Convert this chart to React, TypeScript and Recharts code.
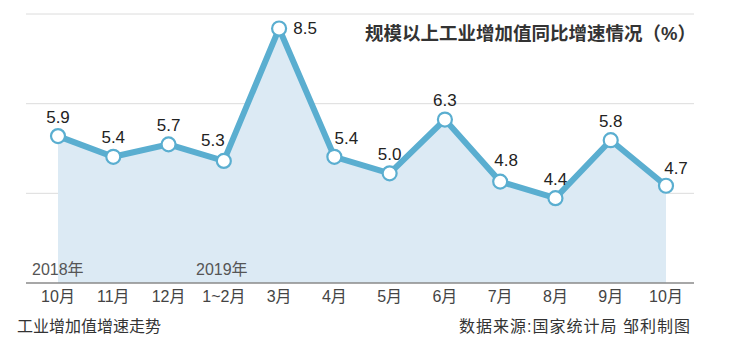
import { ComposedChart, Area, XAxis, YAxis, CartesianGrid, LabelList } from "recharts";

// 规模以上工业增加值同比增速 (%)
const months = ["10月", "11月", "12月", "1~2月", "3月", "4月", "5月", "6月", "7月", "8月", "9月", "10月"];
const growth = [5.9, 5.4, 5.7, 5.3, 8.5, 5.4, 5.0, 6.3, 4.8, 4.4, 5.8, 4.7];
const gridValues = [8.85, 6.683, 4.517];
const yDomain = [2.35, 8.85];

const data = months.map((m, i) => ({ month: m, value: growth[i] }));

const LINE = "#5aaed0";
const FILL = "#dceaf4";
const FONT = '"Liberation Sans", "Noto Sans CJK SC", sans-serif';

// label nudges so values sit clear of the line
const labelShift: Record<number, [number, number]> = {
  3: [-11, -1],
  4: [26, 19],
  5: [12, 1],
  8: [6, -2],
  11: [10, 2],
};

const ValueLabel = (props: any) => {
  const { x, y, value, index } = props;
  const [dx, dy] = labelShift[index] ?? [0, 0];
  return (
    <text
      x={x + dx}
      y={y - 19 + dy}
      textAnchor="middle"
      dominantBaseline="central"
      fontSize={17}
      fill="#222"
      fontFamily={FONT}
    >
      {Number(value).toFixed(1)}
    </text>
  );
};

const textStyle = {
  position: "absolute" as const,
  fontFamily: FONT,
  whiteSpace: "nowrap" as const,
  lineHeight: 1,
};

export default function App() {
  return (
    <div style={{ position: "absolute", left: 0, top: 0, width: 736, height: 354, background: "#fff" }}>
      <ComposedChart
        width={736}
        height={354}
        data={data}
        margin={{ top: 14, right: 42, left: 26, bottom: 0 }}
      >
        <CartesianGrid vertical={false} stroke="#dcdcdc" horizontalValues={gridValues} />
        <XAxis
          dataKey="month"
          padding={{ left: 32, right: 28 }}
          height={71}
          tickLine={false}
          tickMargin={2}
          axisLine={{ stroke: "#8a8a8a", strokeWidth: 1.5 }}
          tick={{ fontSize: 16, fill: "#444", fontFamily: FONT }}
          interval={0}
        />
        <YAxis hide domain={yDomain} type="number" allowDataOverflow />
        <Area
          type="linear"
          dataKey="value"
          stroke={LINE}
          strokeWidth={6}
          fill={FILL}
          fillOpacity={1}
          dot={{ r: 7, fill: "#fff", stroke: LINE, strokeWidth: 2.2 }}
          activeDot={false}
          isAnimationActive={false}
        >
          <LabelList dataKey="value" content={ValueLabel} />
        </Area>
      </ComposedChart>
      <div style={{ ...textStyle, left: 365, top: 25, fontSize: 18.5, fontWeight: 700, color: "#333" }}>
        规模以上工业增加值同比增速情况（%）
      </div>
      <div style={{ ...textStyle, left: 32, top: 262, fontSize: 16, color: "#555" }}>2018年</div>
      <div style={{ ...textStyle, left: 196, top: 262, fontSize: 16, color: "#555" }}>2019年</div>
      <div style={{ ...textStyle, left: 17, top: 319, fontSize: 16, color: "#333" }}>工业增加值增速走势</div>
      <div style={{ ...textStyle, left: 459, top: 319, fontSize: 16, letterSpacing: 1, color: "#333" }}>
        数据来源:国家统计局 邹利制图
      </div>
    </div>
  );
}
